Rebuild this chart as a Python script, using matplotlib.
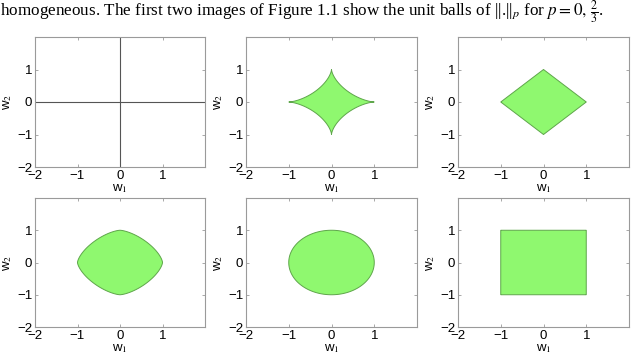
import numpy as np
import matplotlib
matplotlib.use("Agg")
import matplotlib.pyplot as plt

# ---- data ----
ball_p = [0.0, 2.0 / 3.0, 1.0, 1.5, 2.0, np.inf]
tick_vals = [-2, -1, 0, 1]
axis_limits = [-2, 2]
header_text = (r"homogeneous. The first two images of Figure 1.1 show the unit balls of "
               r"||.||$_p$ for $p = 0,\, \frac{2}{3}$.")

fill_color = "#8ff86f"
edge_color = "#5ea64a"
frame_color = "#9a9a9a"

plt.rcParams["mathtext.fontset"] = "stix"
plt.rcParams["font.family"] = ["Liberation Sans", "DejaVu Sans"]

fig = plt.figure(figsize=(6.39, 3.63), dpi=100)
W, H = 639.0, 363.0

fig.text(0.0 / W, 1 - 16.0 / H, header_text, family="Liberation Serif", fontsize=12.3,
         ha="left", va="baseline")

col_x = [(35, 205), (246, 417), (458, 629)]
row_y = [(37, 167), (198, 327)]

theta = np.linspace(0, 2 * np.pi, 4001)
c, s = np.abs(np.cos(theta)), np.abs(np.sin(theta))

for i, prm in enumerate(ball_p):
    r_i, c_i = divmod(i, 3)
    x0, x1 = col_x[c_i]
    y0, y1 = row_y[r_i]
    ax = fig.add_axes([x0 / W, 1 - y1 / H, (x1 - x0) / W, (y1 - y0) / H])
    if prm == 0:
        ax.axhline(0, color="#555555", lw=0.8)
        ax.axvline(0, color="#555555", lw=0.8)
    else:
        if np.isinf(prm):
            rad = 1.0 / np.maximum(c, s)
        else:
            rad = 1.0 / (c ** prm + s ** prm) ** (1.0 / prm)
        ax.fill(rad * np.cos(theta), rad * np.sin(theta), facecolor=fill_color,
                edgecolor=edge_color, lw=0.7)
    ax.set_xlim(axis_limits)
    ax.set_ylim(axis_limits)
    ax.set_xticks(tick_vals)
    ax.set_yticks(tick_vals)
    ax.tick_params(direction="in", length=2.5, width=0.6, color=frame_color,
                   labelsize=9.5, pad=2, top=True, right=True)
    for sp in ax.spines.values():
        sp.set_color(frame_color)
        sp.set_linewidth(0.8)
    ax.set_xlabel(r"w$_1$", fontsize=9.5, labelpad=0)
    ax.set_ylabel(r"w$_2$", fontsize=9.5, labelpad=2)

fig.savefig("out.png", dpi=100)
